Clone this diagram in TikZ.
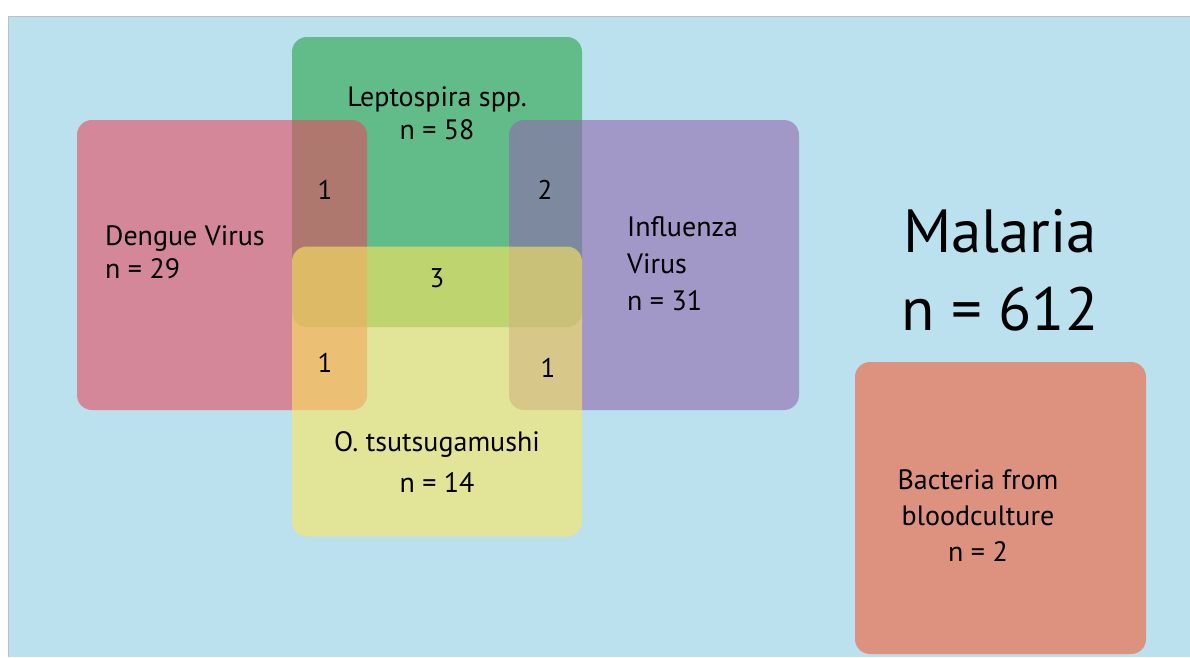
\documentclass[tikz,border=0pt]{standalone}
\usepackage{fontspec}
\setmainfont{PT Sans}
\definecolor{bgblue}{RGB}{187,224,238}
\definecolor{leptoC}{RGB}{40,165,70}
\definecolor{dengueC}{RGB}{227,76,95}
\definecolor{fluC}{RGB}{144,104,173}
\definecolor{tsutC}{RGB}{252,231,95}
\definecolor{bactC}{RGB}{221,146,128}

\tikzset{
  setbox/.style={minimum width=290pt,minimum height=290pt,inner sep=0pt,
    rounded corners=15pt,fill opacity=0.6,draw=none},
  lbl/.style={font=\fontsize{28}{33}\selectfont,inner sep=0pt,align=center},
  cnt/.style={font=\fontsize{27}{30}\selectfont,inner sep=0pt}
}

\begin{document}
\begin{tikzpicture}[x=1pt,y=-1pt]
\useasboundingbox (0,0) rectangle (1190,657);
% background
\fill[bgblue] (8,16) rectangle (1190,657);
\draw[black!25,line width=1pt] (8,657)--(8,16)--(1190,16);
% the four sets
\node[setbox,fill=leptoC] (lepto) at (437,182) {};
\node[setbox,fill=dengueC] (dengue) at (222,265) {};
\node[setbox,fill=fluC] (flu) at (654,265) {};
\node[setbox,fill=tsutC] (tsut) at (437,391.5) {};
\node[setbox,fill=bactC,fill opacity=1,minimum width=291pt,minimum height=292pt] (bact) at (1000.5,508) {};
% set labels
\node[lbl] (leptoL) at (437,113) {Leptospira spp.\\n = 58};
\node[lbl,align=left,anchor=west] (dengueL) at (105,252) {Dengue Virus\\n = 29};
\node[lbl,align=left,anchor=west,font=\fontsize{28}{37}\selectfont] (fluL) at (627,264) {Influenza\\Virus\\n = 31};
\node[lbl,font=\fontsize{28}{41}\selectfont] (tsutL) at (437,462) {O. tsutsugamushi\\n = 14};
\node[lbl,font=\fontsize{28}{36}\selectfont] (bactL) at (978,516) {Bacteria from\\bloodculture\\n = 2};
\node[font=\fontsize{61}{78}\selectfont,align=center,inner sep=0pt] (malaria) at (1000,270) {Malaria\\n = 612};
% overlap counts
\node[cnt] (c1) at (325,190) {1};
\node[cnt] (c2) at (545,190) {2};
\node[cnt] (c3) at (437,278) {3};
\node[cnt] (c4) at (325,363) {1};
\node[cnt] (c5) at (548,368) {1};
\end{tikzpicture}
\end{document}
